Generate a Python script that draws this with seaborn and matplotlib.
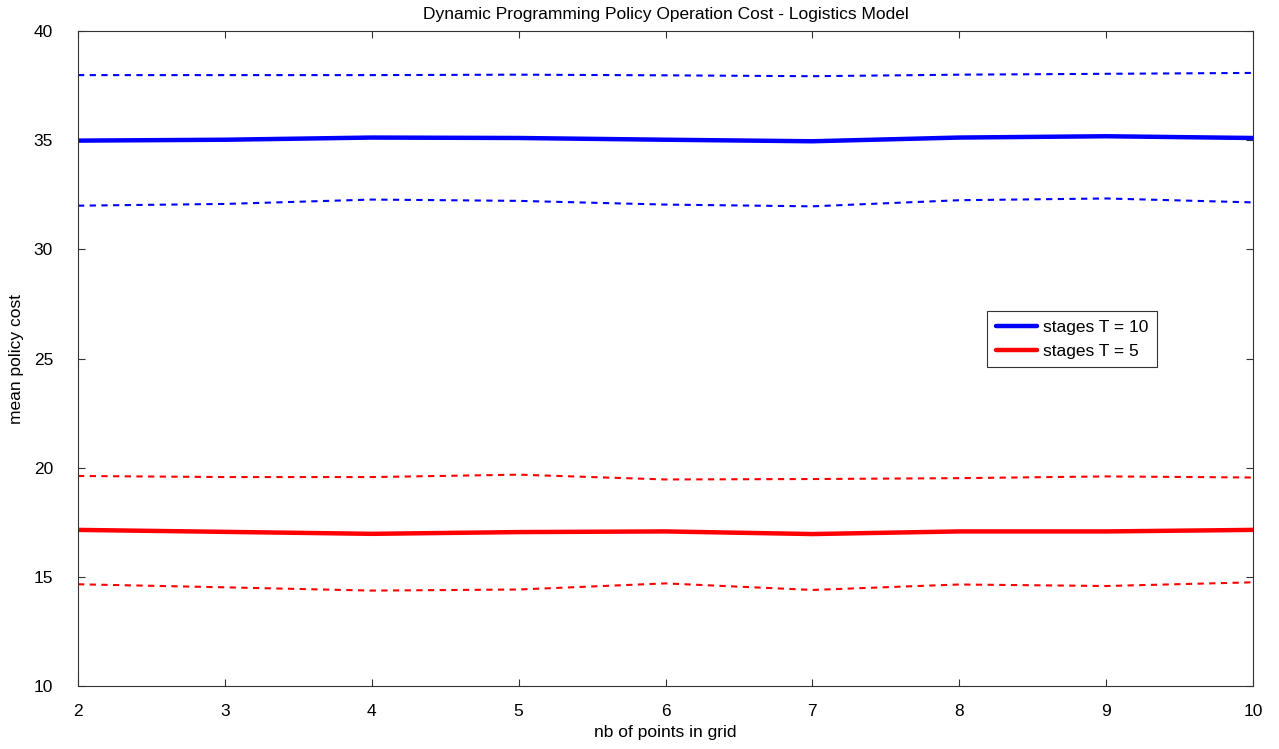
import numpy as np
import pandas as pd
import matplotlib
matplotlib.use("Agg")
import matplotlib.pyplot as plt
import seaborn as sns

grid_points = [2, 3, 4, 5, 6, 7, 8, 9, 10]

t10_mean = [34.98, 35.02, 35.12, 35.10, 35.02, 34.95, 35.12, 35.18, 35.10]
t10_upper = [37.98, 37.98, 37.98, 38.00, 37.97, 37.93, 38.00, 38.04, 38.08]
t10_lower = [32.00, 32.08, 32.28, 32.22, 32.05, 31.97, 32.25, 32.33, 32.15]

t5_mean = [17.15, 17.06, 16.97, 17.05, 17.08, 16.96, 17.08, 17.08, 17.15]
t5_upper = [19.62, 19.57, 19.57, 19.68, 19.46, 19.48, 19.52, 19.60, 19.55]
t5_lower = [14.66, 14.52, 14.37, 14.42, 14.70, 14.40, 14.65, 14.58, 14.75]

labels = ["stages T = 10", "stages T = 5"]

sns.set_style("ticks")
plt.rcParams["font.family"] = ["Liberation Sans", "DejaVu Sans"]
plt.rcParams["xtick.direction"] = "in"
plt.rcParams["ytick.direction"] = "in"
plt.rcParams["text.color"] = "black"
plt.rcParams["axes.labelcolor"] = "black"
plt.rcParams["xtick.labelcolor"] = "black"
plt.rcParams["ytick.labelcolor"] = "black"

FS = 12.5

fig = plt.figure(figsize=(12.79, 7.49), dpi=100)
ax = fig.add_axes([0.061, 0.0841, 0.9187, 0.8745])

df = pd.DataFrame({"x": grid_points})
series = [
    (t10_mean, "blue", "-", 3.2, labels[0]),
    (t5_mean, "red", "-", 3.2, labels[1]),
    (t10_upper, "blue", "--", 1.5, None),
    (t10_lower, "blue", "--", 1.5, None),
    (t5_upper, "red", "--", 1.5, None),
    (t5_lower, "red", "--", 1.5, None),
]
for vals, col, ls, lw, lab in series:
    d = df.assign(y=vals)
    line_kw = dict(color=col, linewidth=lw, ax=ax)
    if lab is not None:
        line_kw["label"] = lab
    sns.lineplot(data=d, x="x", y="y", **line_kw)
    ln = ax.lines[-1]
    if ls == "--":
        ln.set_dashes((3, 2.6))

ax.set_xlim(2, 10)
ax.set_ylim(10, 40)
ax.set_xticks(grid_points)
ax.set_yticks([10, 15, 20, 25, 30, 35, 40])
ax.tick_params(axis="both", which="both", top=True, right=True, length=5,
               width=0.8, labelsize=FS, color="#333333")
ax.tick_params(axis="x", pad=13)
ax.tick_params(axis="y", pad=18)
for s in ax.spines.values():
    s.set_linewidth(0.8)
    s.set_color("#333333")

ax.set_xlabel("nb of points in grid", fontsize=FS, labelpad=4)
ax.set_ylabel("mean policy cost", fontsize=FS, labelpad=7)
ax.set_title("Dynamic Programming Policy Operation Cost - Logistics Model", fontsize=FS, pad=9)

leg = ax.legend(loc="upper left", bbox_to_anchor=(0.7736, 0.5725), fontsize=FS,
                fancybox=False, framealpha=1, edgecolor="#333333",
                handlelength=2.4, handletextpad=0.3, borderpad=0.5,
                labelspacing=0.5, borderaxespad=0)
leg.get_frame().set_linewidth(0.8)

fig.savefig("out.png", dpi=100)
